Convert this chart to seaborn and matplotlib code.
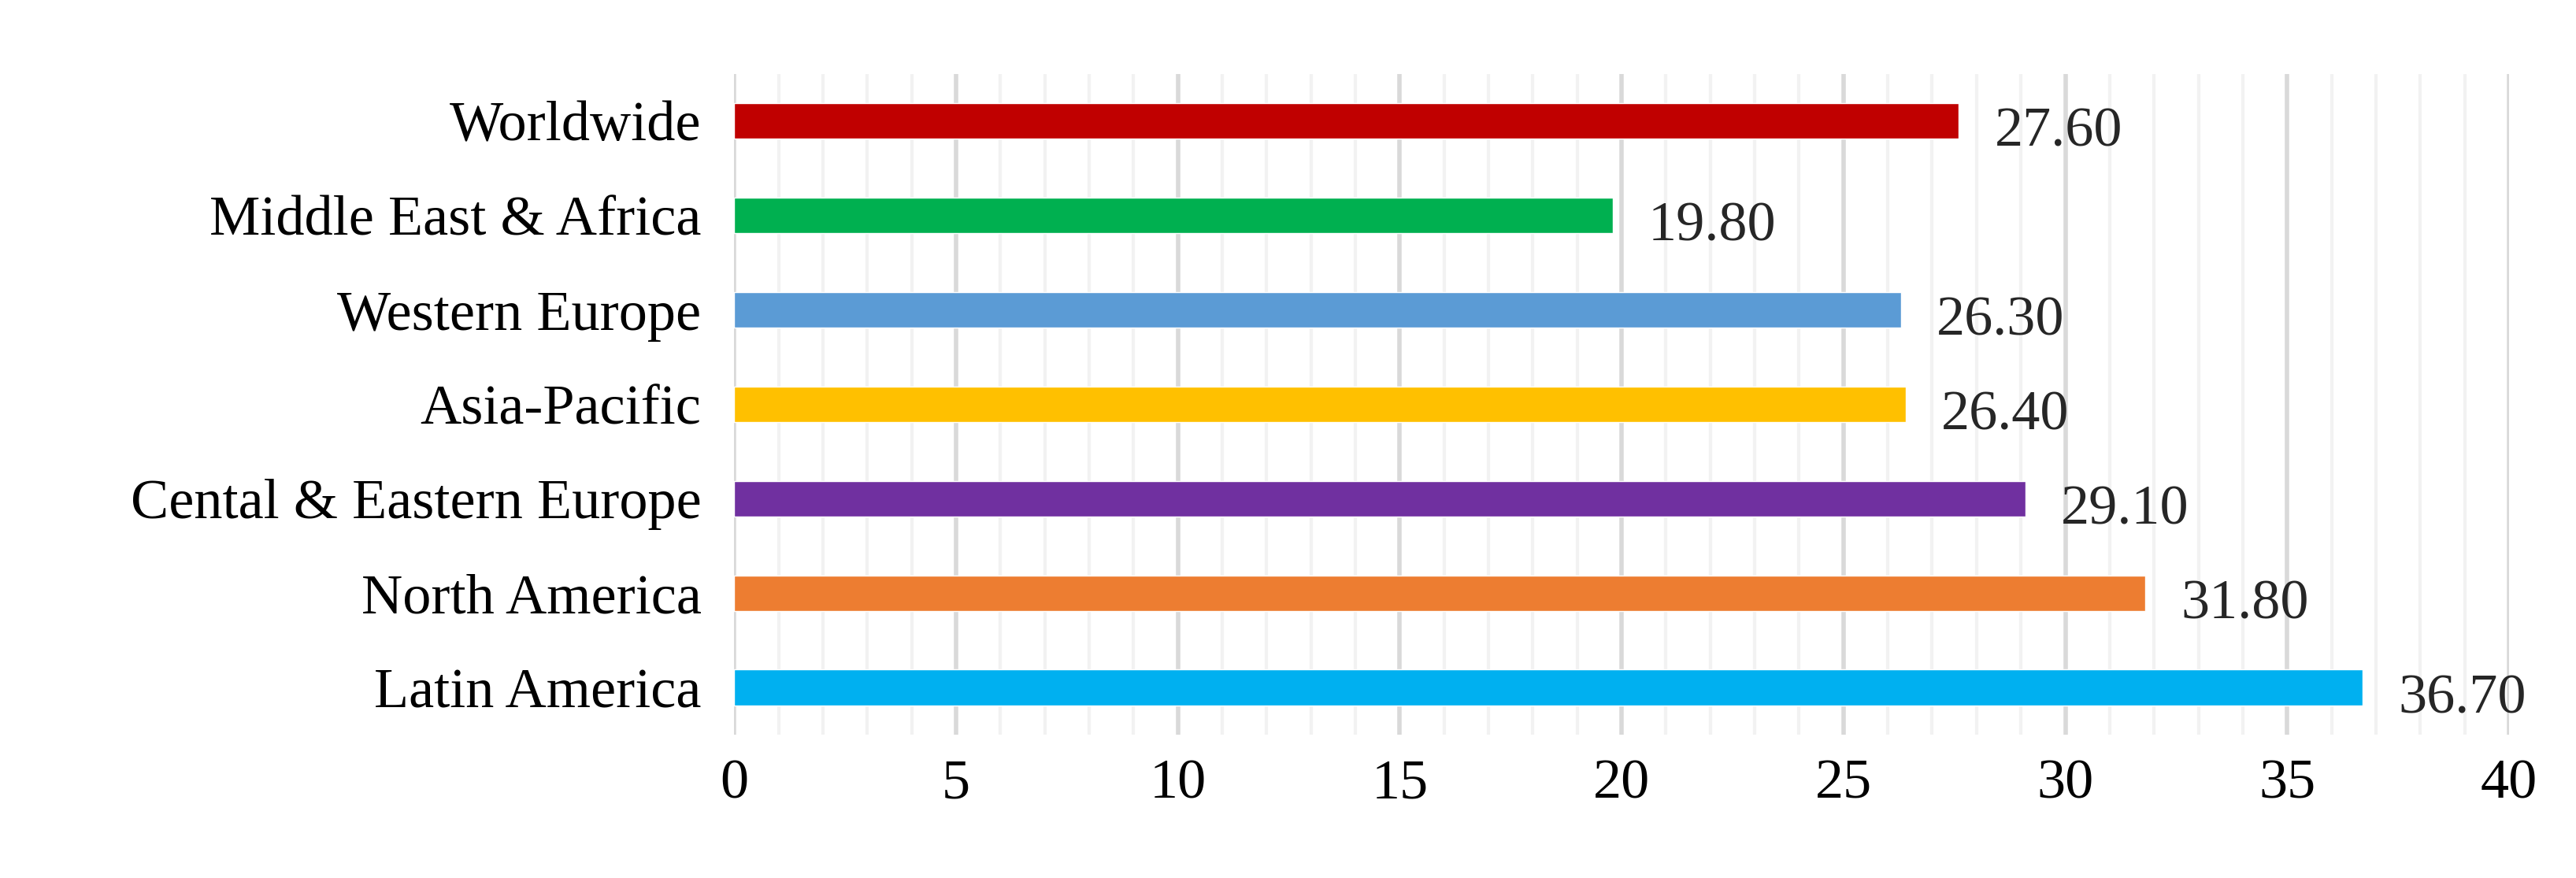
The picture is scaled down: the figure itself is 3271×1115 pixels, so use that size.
import matplotlib
matplotlib.use("Agg")
import matplotlib.pyplot as plt
import seaborn as sns
import pandas as pd
from matplotlib.ticker import MultipleLocator

regions = ["Worldwide", "Middle East & Africa", "Western Europe", "Asia-Pacific",
           "Cental & Eastern Europe", "North America", "Latin America"]
values = [27.60, 19.80, 26.30, 26.40, 29.10, 31.80, 36.70]
colors = ["#C00000", "#00B050", "#5B9BD5", "#FFC000", "#7030A0", "#ED7D31", "#00B0F0"]

sns.set_theme(style="white")
plt.rcParams['font.family'] = ['Liberation Serif', 'DejaVu Serif']

df = pd.DataFrame({"region": regions, "value": values})
fig = plt.figure(figsize=(32.71, 11.15), dpi=100)
ax = fig.add_axes([0.285, 0.163, 0.689, 0.753])
sns.barplot(data=df, x="value", y="region", hue="region", palette=colors,
            width=0.38, saturation=1, legend=False, ax=ax, zorder=3)
ax.set_xlim(0, 40)
ax.xaxis.set_major_locator(MultipleLocator(5))
ax.xaxis.set_minor_locator(MultipleLocator(1))
ax.grid(which="major", axis="x", color="#D9D9D9", linewidth=4, zorder=0)
ax.grid(which="minor", axis="x", color="#F2F2F2", linewidth=3, zorder=0)
ax.set_axisbelow(True)
for s in ax.spines.values():
    s.set_visible(False)
ax.tick_params(axis="both", which="both", length=0, labelsize=52, colors="black")
ax.tick_params(axis="x", pad=22)
ax.tick_params(axis="y", pad=30)
ax.set_xlabel("")
ax.set_ylabel("")
for i, v in enumerate(values):
    ax.text(v + 0.8, i + 0.12, f"{v:.2f}", va="center", ha="left", fontsize=52)
fig.savefig("out.png", dpi=100)
